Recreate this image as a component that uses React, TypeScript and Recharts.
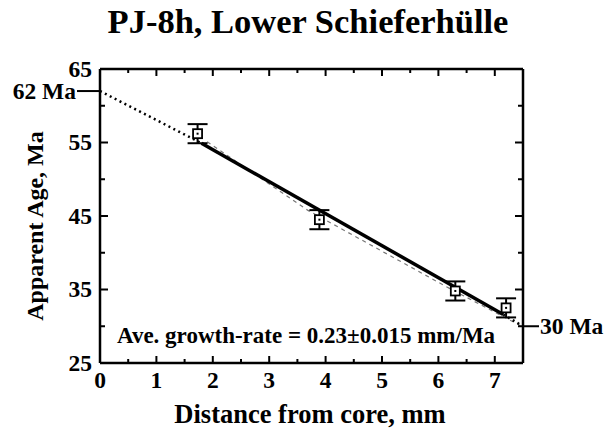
import React from 'react';
import { ComposedChart, Line, Scatter, XAxis, YAxis, ErrorBar } from 'recharts';

const title = 'PJ-8h, Lower Schieferhülle';
const xLabel = 'Distance from core, mm';
const yLabel = 'Apparent Age, Ma';
const rateNote = 'Ave. growth-rate = 0.23±0.015 mm/Ma';

// measured garnet ages
const samples = [
  { x: 1.73, y: 56.2, err: 1.3 },
  { x: 3.89, y: 44.5, err: 1.3 },
  { x: 6.3, y: 34.8, err: 1.3 },
  { x: 7.2, y: 32.5, err: 1.3 },
];

// fitted growth lines
const solidFit = [
  { x: 1.8, y: 54.9 },
  { x: 7.15, y: 31.6 },
];
const dottedStart = [
  { x: 0, y: 62 },
  { x: 1.8, y: 54.9 },
];
const dottedEnd = [
  { x: 7.15, y: 31.6 },
  { x: 7.5, y: 30 },
];
const dashedFit = [
  { x: 1.9, y: 55.1 },
  { x: 3.68, y: 45.8 },
  { x: 6.16, y: 35.3 },
  { x: 7.45, y: 30.1 },
];

const xTicks = [0, 0.5, 1, 1.5, 2, 2.5, 3, 3.5, 4, 4.5, 5, 5.5, 6, 6.5, 7, 7.5];
const yTicks = [25, 30, 35, 40, 45, 50, 55, 60, 65];
const startAge = 62;
const endAge = 30;

const FONT = "'Liberation Serif', 'Times New Roman', serif";
const INK = '#000';
const TICK_FONT = 23.5;

const BottomTick = (props: any) => {
  const { x, y, payload } = props;
  const v = payload.value;
  const major = Number.isInteger(v);
  return (
    <g>
      <line x1={x} x2={x} y1={y} y2={y - (major ? 7 : 4)} stroke={INK} strokeWidth={2} />
      {major && (
        <text x={x} y={y + 25} textAnchor="middle" fontFamily={FONT} fontWeight="bold" fontSize={TICK_FONT} fill={INK}>
          {v}
        </text>
      )}
    </g>
  );
};

const TopTick = (props: any) => {
  const { x, y, payload } = props;
  const major = Number.isInteger(payload.value);
  return <line x1={x} x2={x} y1={y} y2={y + (major ? 7 : 4)} stroke={INK} strokeWidth={2} />;
};

const LeftTick = (props: any) => {
  const { x, y, payload } = props;
  const v = payload.value;
  if (v === startAge) {
    return (
      <g>
        <line x1={x - 23} x2={x} y1={y} y2={y} stroke={INK} strokeWidth={2} />
        <text x={x - 24} y={y + 7.5} textAnchor="end" fontFamily={FONT} fontWeight="bold" fontSize={TICK_FONT} fill={INK}>
          {v} Ma
        </text>
      </g>
    );
  }
  const major = (v - 25) % 10 === 0;
  return (
    <g>
      <line x1={x} x2={x + (major ? 8 : 5)} y1={y} y2={y} stroke={INK} strokeWidth={2} />
      {major && (
        <text x={x - 8} y={y + 7.5} textAnchor="end" fontFamily={FONT} fontWeight="bold" fontSize={TICK_FONT} fill={INK}>
          {v}
        </text>
      )}
    </g>
  );
};

const RightTick = (props: any) => {
  const { x, y, payload } = props;
  const v = payload.value;
  const major = (v - 25) % 10 === 0;
  return (
    <g>
      <line x1={x} x2={x - (major ? 8 : 5)} y1={y} y2={y} stroke={INK} strokeWidth={2} />
      {v === endAge && (
        <g>
          <line x1={x} x2={x + 16} y1={y} y2={y} stroke={INK} strokeWidth={2} />
          <text x={x + 17} y={y + 7.5} textAnchor="start" fontFamily={FONT} fontWeight="bold" fontSize={TICK_FONT} fill={INK}>
            {v} Ma
          </text>
        </g>
      )}
    </g>
  );
};

const BoxMarker = (props: any) => {
  const { cx, cy } = props;
  return (
    <g>
      <rect x={cx - 4.5} y={cy - 4.5} width={9} height={9} fill="#fff" stroke={INK} strokeWidth={1.8} />
      <rect x={cx - 1} y={cy - 1} width={2} height={2} fill={INK} />
    </g>
  );
};

const App: React.FC = () => {
  return (
    <div style={{ position: 'absolute', left: 0, top: 0, width: 613, height: 431, background: '#fff' }}>
      <ComposedChart width={613} height={431} margin={{ top: 68, right: 89, bottom: 67, left: 99 }}>
        <XAxis
          dataKey="x"
          type="number"
          domain={[0, 7.5]}
          allowDataOverflow
          ticks={xTicks}
          interval={0}
          height={1}
          tickSize={0}
          tickMargin={0}
          tickLine={false}
          axisLine={{ stroke: INK, strokeWidth: 2.5 }}
          tick={(p: any) => <BottomTick {...p} />}
        />
        <XAxis
          xAxisId="top"
          orientation="top"
          dataKey="x"
          type="number"
          domain={[0, 7.5]}
          allowDataOverflow
          ticks={xTicks}
          interval={0}
          height={1}
          tickSize={0}
          tickMargin={0}
          tickLine={false}
          axisLine={{ stroke: INK, strokeWidth: 2.5 }}
          tick={(p: any) => <TopTick {...p} />}
        />
        <YAxis
          type="number"
          domain={[25, 65]}
          allowDataOverflow
          ticks={[...yTicks, startAge]}
          interval={0}
          width={1}
          tickSize={0}
          tickMargin={0}
          tickLine={false}
          axisLine={{ stroke: INK, strokeWidth: 2.5 }}
          tick={(p: any) => <LeftTick {...p} />}
        />
        <YAxis
          yAxisId="right"
          orientation="right"
          type="number"
          domain={[25, 65]}
          allowDataOverflow
          ticks={yTicks}
          interval={0}
          width={1}
          tickSize={0}
          tickMargin={0}
          tickLine={false}
          axisLine={{ stroke: INK, strokeWidth: 2.5 }}
          tick={(p: any) => <RightTick {...p} />}
        />
        {/* invisible series so the frame axes get a scale */}
        <Line
          xAxisId="top"
          yAxisId="right"
          data={samples}
          dataKey="y"
          stroke="none"
          dot={false}
          activeDot={false}
          isAnimationActive={false}
        />
        <Line
          data={dashedFit}
          dataKey="y"
          type="linear"
          stroke="#777"
          strokeWidth={1.2}
          strokeDasharray="4 4"
          dot={false}
          activeDot={false}
          isAnimationActive={false}
        />
        <Line
          data={dottedStart}
          dataKey="y"
          type="linear"
          stroke={INK}
          strokeWidth={2.5}
          strokeDasharray="2 3.5"
          dot={false}
          activeDot={false}
          isAnimationActive={false}
        />
        <Line
          data={dottedEnd}
          dataKey="y"
          type="linear"
          stroke={INK}
          strokeWidth={2.5}
          strokeDasharray="2 3.5"
          dot={false}
          activeDot={false}
          isAnimationActive={false}
        />
        <Line
          data={solidFit}
          dataKey="y"
          type="linear"
          stroke={INK}
          strokeWidth={3.5}
          dot={false}
          activeDot={false}
          isAnimationActive={false}
        />
        <Scatter data={samples} dataKey="y" shape={(p: any) => <BoxMarker {...p} />} isAnimationActive={false}>
          <ErrorBar dataKey="err" direction="y" width={10} stroke={INK} strokeWidth={2} isAnimationActive={false} />
        </Scatter>
      </ComposedChart>
      <svg
        width={613}
        height={431}
        style={{ position: 'absolute', left: 0, top: 0, pointerEvents: 'none' }}
        fontFamily={FONT}
        fontWeight="bold"
        fill={INK}
      >
        <text x={308} y={33} textAnchor="middle" fontSize={34.5}>
          {title}
        </text>
        <text x={310} y={423} textAnchor="middle" fontSize={26.5}>
          {xLabel}
        </text>
        <text x={43} y={226} textAnchor="middle" fontSize={24} transform="rotate(-90 43 226)">
          {yLabel}
        </text>
        <text x={117} y={343} textAnchor="start" fontSize={23}>
          {rateNote}
        </text>
      </svg>
    </div>
  );
};

export default App;
